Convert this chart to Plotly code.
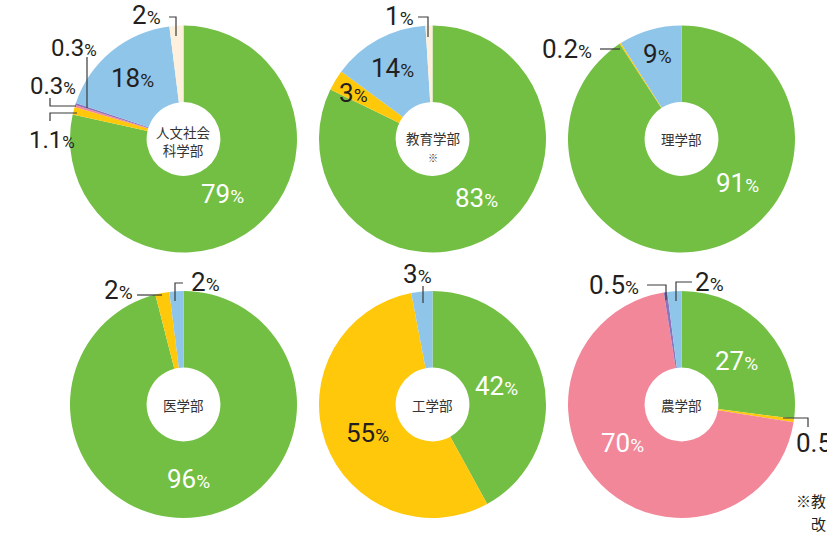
import plotly.graph_objects as go

# ---------------- data ----------------
faculties = ["人文社会<br>科学部", "教育学部", "理学部", "医学部", "工学部", "農学部"]
faculty_marks = ["", "※", "", "", "", ""]

cats_jinbun = ["green", "yellow", "pink", "purple", "blue", "cream"]
vals_jinbun = [79, 1.1, 0.3, 0.3, 18, 2]

cats_kyoiku = ["green", "yellow", "blue", "cream"]
vals_kyoiku = [83, 3, 14, 1]

cats_rigaku = ["green", "yellow", "blue"]
vals_rigaku = [91, 0.2, 9]

cats_igaku = ["green", "yellow", "blue"]
vals_igaku = [96, 2, 2]

cats_kogaku = ["green", "yellow", "blue"]
vals_kogaku = [42, 55, 3]

cats_nogaku = ["green", "yellow", "pink", "purple", "blue"]
vals_nogaku = [27, 0.5, 70, 0.5, 2]

footnote_lines = ["※教", "改"]

# ---------------- style / layout ----------------
W, H = 827, 539
R = 113.5
HOLE = 0.325
COLORS = {
    "green": "#72BF44",
    "yellow": "#FFC80B",
    "pink": "#F2879A",
    "purple": "#8C74BC",
    "blue": "#90C5EA",
    "cream": "#FDF0DD",
}
DARK = "#231F20"
LINE = "#3A3A3A"
NUM_FONT = "Roboto, 'Noto Sans', sans-serif"
JP_FONT = "'Noto Sans CJK JP', sans-serif"

# per pie: center (px), center-label y offset, per-slice label placement
# (x, y, color, size, xanchor), leader paths (px)
pies = [
    dict(cats=cats_jinbun, vals=vals_jinbun, c=(183.5, 139), cdy=2,
         labels=[(222, 194, "white", 26, "center"), (52, 140, DARK, 24, "center"),
                 (53, 86, DARK, 24, "center"), (74, 48, DARK, 24, "center"),
                 (132, 78, DARK, 26, "center"), (146, 15, DARK, 26, "center")],
         leaders=[[(169, 17), (176, 17), (176, 36)], [(87, 57), (87, 108)],
                  [(50, 98), (50, 106), (76, 106)], [(50, 121), (50, 113), (77, 113)]]),
    dict(cats=cats_kyoiku, vals=vals_kyoiku, c=(432.5, 139), cdy=7,
         labels=[(476, 198, "white", 26, "center"), (353, 93, DARK, 26, "center"),
                 (392, 68, DARK, 26, "center"), (399, 16, DARK, 26, "center")],
         leaders=[[(418, 17), (428, 17), (428, 37)]]),
    dict(cats=cats_rigaku, vals=vals_rigaku, c=(681.5, 139), cdy=0,
         labels=[(737, 183, "white", 26, "center"), (567, 49, DARK, 26, "center"),
                 (657, 54, DARK, 26, "center")],
         leaders=[[(600, 49), (620, 49)]]),
    dict(cats=cats_igaku, vals=vals_igaku, c=(183.5, 404.5), cdy=0,
         labels=[(188, 479, "white", 26, "center"), (118, 290, DARK, 26, "center"),
                 (205, 282, DARK, 26, "center")],
         leaders=[[(137, 295), (162, 295)], [(183, 283), (175, 283), (175, 301)]]),
    dict(cats=cats_kogaku, vals=vals_kogaku, c=(432.5, 404.5), cdy=0,
         labels=[(497, 386, "white", 26, "center"), (367, 433, DARK, 26, "center"),
                 (417, 274, DARK, 26, "center")],
         leaders=[[(423, 286), (423, 303)]]),
    dict(cats=cats_nogaku, vals=vals_nogaku, c=(681.5, 404.5), cdy=0,
         labels=[(736, 361, "white", 26, "center"), (794, 443, DARK, 26, "left"),
                 (622, 443, "white", 26, "center"), (614, 285, DARK, 26, "center"),
                 (709, 282, DARK, 26, "center")],
         leaders=[[(783, 418), (808, 418), (808, 427)], [(647, 285), (666, 285), (666, 300)],
                  [(692, 282), (676, 282), (676, 301)]]),
]


def px(x, y):
    return x / W, 1 - y / H


fig = go.Figure()
annotations = []
shapes = []

for i, p in enumerate(pies):
    cx, cy = p["c"]
    x0, y1 = px(cx - R, cy - R)
    x1, y0 = px(cx + R, cy + R)
    fig.add_trace(go.Pie(
        labels=p["cats"], values=p["vals"],
        marker=dict(colors=[COLORS[k] for k in p["cats"]], line=dict(width=0)),
        hole=HOLE, sort=False, direction="clockwise", rotation=0,
        textinfo="none", hoverinfo="label+value", showlegend=False,
        domain=dict(x=[x0, x1], y=[y0, y1]),
    ))
    # center label
    txt = faculties[i]
    if faculty_marks[i]:
        txt += "<br><span style='font-size:10px'>" + faculty_marks[i] + "</span>"
    ax, ay = px(cx, cy + p["cdy"])
    annotations.append(dict(x=ax, y=ay, xref="paper", yref="paper", text=txt,
                            showarrow=False, xanchor="center", yanchor="middle",
                            font=dict(family=JP_FONT, size=13.5, color="#333333")))
    # value labels
    for v, (lx, ly, col, size, xa) in zip(p["vals"], p["labels"]):
        ps = round(size * 0.72)
        t = f"{v:g}<span style='font-size:{ps}px'>%</span>"
        ax, ay = px(lx, ly)
        annotations.append(dict(x=ax, y=ay, xref="paper", yref="paper", text=t,
                                showarrow=False, xanchor=xa, yanchor="middle",
                                font=dict(family=NUM_FONT, size=size, color=col)))
    # leader lines
    for pts in p["leaders"]:
        path = ""
        for j, (lx, ly) in enumerate(pts):
            qx, qy = px(lx, ly)
            path += ("M" if j == 0 else " L") + f"{qx:.5f},{qy:.5f}"
        shapes.append(dict(type="path", path=path, xref="paper", yref="paper",
                           line=dict(color=LINE, width=1.2)))

# footnote (cut off at the right edge in the original)
fx, fy = px(794, 500)
annotations.append(dict(x=fx, y=fy, xref="paper", yref="paper", text=footnote_lines[0],
                        showarrow=False, xanchor="left", yanchor="middle",
                        font=dict(family=JP_FONT, size=15, color=DARK)))
fx, fy = px(809, 523)
annotations.append(dict(x=fx, y=fy, xref="paper", yref="paper", text=footnote_lines[1],
                        showarrow=False, xanchor="left", yanchor="middle",
                        font=dict(family=JP_FONT, size=15, color=DARK)))

fig.update_layout(
    width=W, height=H,
    margin=dict(l=0, r=0, t=0, b=0),
    paper_bgcolor="white", plot_bgcolor="white",
    annotations=annotations, shapes=shapes,
)

fig.write_html("out.html", config={"displayModeBar": False},
               post_script="document.body.style.margin='0px';document.body.style.overflow='hidden';")
